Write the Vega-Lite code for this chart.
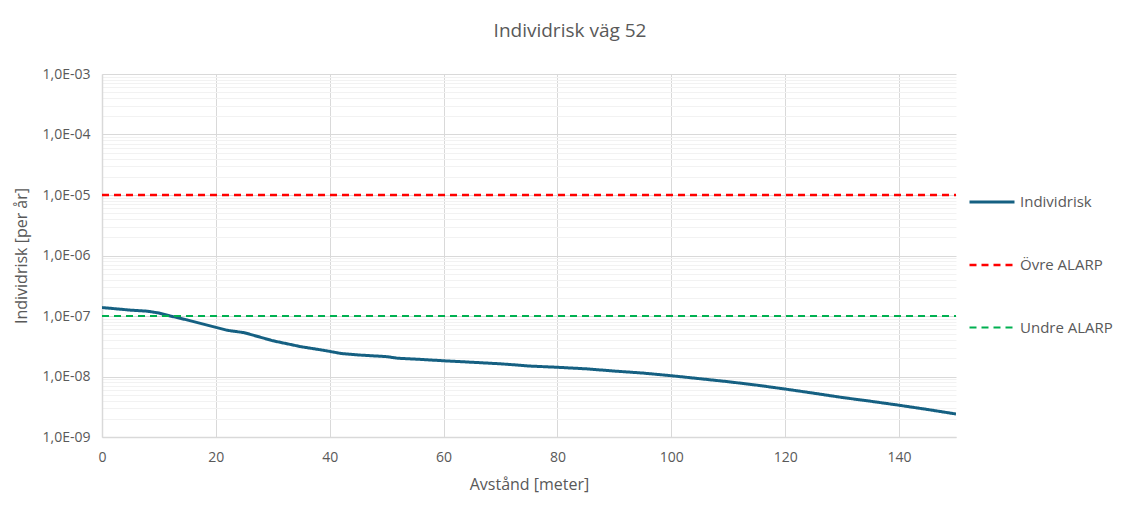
{
  "$schema": "https://vega.github.io/schema/vega-lite/v6.json",
  "width": 854,
  "height": 363,
  "autosize": {"type": "none"},
  "padding": {"left": 102, "top": 74, "right": 176, "bottom": 71},
  "background": "white",
  "title": {
    "text": "Individrisk väg 52",
    "fontSize": 19,
    "font": "Open Sans",
    "fontWeight": "normal",
    "color": "#595959",
    "anchor": "middle",
    "dx": 41,
    "offset": 26
  },
  "config": {
    "font": "Open Sans",
    "view": {"stroke": null},
    "axis": {"labelColor": "#595959", "titleColor": "#595959", "labelFontSize": 14, "titleFontSize": 16, "titleFontWeight": "normal", "ticks": false}
  },
  "data": {
    "values": [
      {"x": 0, "risk": 1.38e-7, "series": "Individrisk"},
      {"x": 5, "risk": 1.25e-7, "series": "Individrisk"},
      {"x": 8, "risk": 1.2e-7, "series": "Individrisk"},
      {"x": 10, "risk": 1.12e-7, "series": "Individrisk"},
      {"x": 12, "risk": 1.0e-7, "series": "Individrisk"},
      {"x": 15, "risk": 8.6e-8, "series": "Individrisk"},
      {"x": 20, "risk": 6.5e-8, "series": "Individrisk"},
      {"x": 22, "risk": 5.8e-8, "series": "Individrisk"},
      {"x": 25, "risk": 5.3e-8, "series": "Individrisk"},
      {"x": 30, "risk": 3.9e-8, "series": "Individrisk"},
      {"x": 35, "risk": 3.1e-8, "series": "Individrisk"},
      {"x": 38, "risk": 2.8e-8, "series": "Individrisk"},
      {"x": 40, "risk": 2.6e-8, "series": "Individrisk"},
      {"x": 42, "risk": 2.4e-8, "series": "Individrisk"},
      {"x": 45, "risk": 2.27e-8, "series": "Individrisk"},
      {"x": 50, "risk": 2.13e-8, "series": "Individrisk"},
      {"x": 52, "risk": 2.0e-8, "series": "Individrisk"},
      {"x": 55, "risk": 1.94e-8, "series": "Individrisk"},
      {"x": 60, "risk": 1.82e-8, "series": "Individrisk"},
      {"x": 65, "risk": 1.72e-8, "series": "Individrisk"},
      {"x": 70, "risk": 1.62e-8, "series": "Individrisk"},
      {"x": 72, "risk": 1.57e-8, "series": "Individrisk"},
      {"x": 75, "risk": 1.49e-8, "series": "Individrisk"},
      {"x": 80, "risk": 1.42e-8, "series": "Individrisk"},
      {"x": 85, "risk": 1.34e-8, "series": "Individrisk"},
      {"x": 90, "risk": 1.23e-8, "series": "Individrisk"},
      {"x": 95, "risk": 1.14e-8, "series": "Individrisk"},
      {"x": 100, "risk": 1.03e-8, "series": "Individrisk"},
      {"x": 105, "risk": 9.2e-9, "series": "Individrisk"},
      {"x": 110, "risk": 8.2e-9, "series": "Individrisk"},
      {"x": 115, "risk": 7.2e-9, "series": "Individrisk"},
      {"x": 120, "risk": 6.2e-9, "series": "Individrisk"},
      {"x": 125, "risk": 5.3e-9, "series": "Individrisk"},
      {"x": 130, "risk": 4.5e-9, "series": "Individrisk"},
      {"x": 135, "risk": 3.9e-9, "series": "Individrisk"},
      {"x": 140, "risk": 3.35e-9, "series": "Individrisk"},
      {"x": 145, "risk": 2.85e-9, "series": "Individrisk"},
      {"x": 150, "risk": 2.4e-9, "series": "Individrisk"},
      {"x": 0, "risk": 1e-5, "series": "Övre ALARP"},
      {"x": 150, "risk": 1e-5, "series": "Övre ALARP"},
      {"x": 0, "risk": 1e-7, "series": "Undre ALARP"},
      {"x": 150, "risk": 1e-7, "series": "Undre ALARP"}
    ]
  },
  "mark": {"type": "line", "clip": true},
  "encoding": {
    "x": {
      "field": "x",
      "type": "quantitative",
      "scale": {"domain": [0, 150], "nice": false, "zero": true},
      "axis": {
        "values": [0, 20, 40, 60, 80, 100, 120, 140],
        "title": "Avstånd [meter]",
        "gridColor": "#d9d9d9",
        "domainColor": "#d9d9d9",
        "domainWidth": 1.5,
        "labelFlush": false,
        "labelPadding": 13,
        "titlePadding": 12
      }
    },
    "y": {
      "field": "risk",
      "type": "quantitative",
      "scale": {"type": "log", "domain": [1e-9, 1e-3], "nice": false},
      "axis": {
        "title": "Individrisk [per år]",
        "values": [1e-9, 2e-9, 3e-9, 4e-9, 5e-9, 6e-9, 7e-9, 8e-9, 9e-9, 1e-8, 2e-8, 3e-8, 4e-8, 5e-8, 6e-8, 7e-8, 8e-8, 9e-8, 1e-7, 2e-7, 3e-7, 4e-7, 5e-7, 6e-7, 7e-7, 8e-7, 9e-7, 1e-6, 2e-6, 3e-6, 4e-6, 5e-6, 6e-6, 7e-6, 8e-6, 9e-6, 1e-5, 2e-5, 3e-5, 4e-5, 5e-5, 6e-5, 7e-5, 8e-5, 9e-5, 1e-4, 2e-4, 3e-4, 4e-4, 5e-4, 6e-4, 7e-4, 8e-4, 9e-4, 1e-3],
        "labelExpr": "abs(log(datum.value)/LN10 - round(log(datum.value)/LN10)) < 0.001 ? '1,0E-0' + (-round(log(datum.value)/LN10)) : ''",
        "labelOverlap": false,
        "labelPadding": 12,
        "titlePadding": 13,
        "gridColor": {"condition": {"test": "abs(log(datum.value)/LN10 - round(log(datum.value)/LN10)) < 0.001", "value": "#d9d9d9"}, "value": "#f2f2f2"},
        "domainColor": "#d9d9d9",
        "domainWidth": 1.5
      }
    },
    "color": {
      "field": "series",
      "type": "nominal",
      "scale": {"domain": ["Individrisk", "Övre ALARP", "Undre ALARP"], "range": ["#156082", "#ff0000", "#00b050"]},
      "legend": {
        "title": null,
        "orient": "none",
        "legendX": 866,
        "legendY": 104,
        "symbolSize": 2025,
        "symbolStrokeWidth": 2.5,
        "labelFontSize": 15,
        "labelColor": "#595959",
        "labelOffset": 4,
        "rowPadding": 31
      }
    },
    "strokeDash": {
      "field": "series",
      "type": "nominal",
      "scale": {"domain": ["Individrisk", "Övre ALARP", "Undre ALARP"], "range": [[1, 0], [7, 5], [7, 5]]},
      "legend": {
        "title": null,
        "orient": "none",
        "legendX": 866,
        "legendY": 104,
        "symbolSize": 2025,
        "symbolStrokeWidth": 2.5,
        "labelFontSize": 15,
        "labelColor": "#595959",
        "labelOffset": 4,
        "rowPadding": 31
      }
    },
    "strokeWidth": {
      "field": "series",
      "type": "nominal",
      "scale": {"domain": ["Individrisk", "Övre ALARP", "Undre ALARP"], "range": [3, 2, 2]},
      "legend": null
    }
  }
}
